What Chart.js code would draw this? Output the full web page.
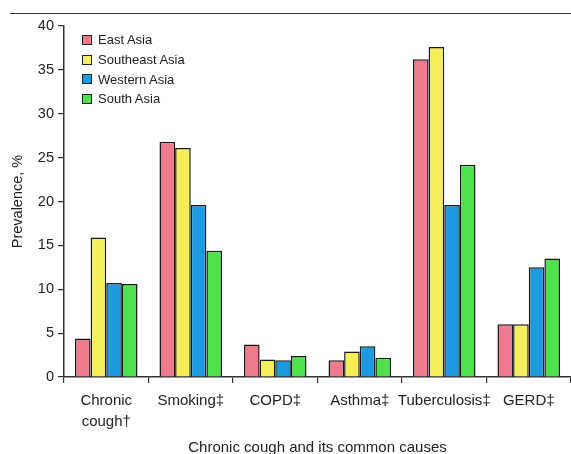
<!DOCTYPE html>
<html>
<head>
<meta charset="utf-8">
<script src="https://cdn.jsdelivr.net/npm/chart.js@4"></script>
<style>
  html, body { margin: 0; padding: 0; background: #fff; }
  #wrap { position: relative; width: 571px; height: 454px; }
  #topline { position: absolute; left: 10px; right: 0; top: 13px; height: 0; border-top: 1.5px solid #333; }
  #legend { position: absolute; left: 82px; top: 30px; font: 13px "Liberation Sans", Arial, sans-serif; color: #222; }
  #legend div { height: 19.7px; display: flex; align-items: center; }
  #legend span.box { display: inline-block; width: 8px; height: 8px; border: 1.5px solid #222; margin-right: 6px; }
</style>
</head>
<body>
<div id="wrap">
  <canvas id="c" width="571" height="454"></canvas>
  <div id="topline"></div>
  <div id="legend"></div>
</div>
<script>
// categories (x axis)
const categories = [['Chronic', 'cough†'], 'Smoking‡', 'COPD‡', 'Asthma‡', 'Tuberculosis‡', 'GERD‡'];
const seriesNames = ['East Asia', 'Southeast Asia', 'Western Asia', 'South Asia'];
const seriesColors = ['#EE7A8E', '#F4EE58', '#1D9BE2', '#4FE24F'];

// prevalence %
const eastAsia      = [4.4, 26.8, 3.7, 1.9, 36.2, 6.0];
const southeastAsia = [15.9, 26.1, 2.0, 2.9, 37.6, 6.0];
const westernAsia   = [10.7, 19.6, 1.9, 3.5, 19.6, 12.5];
const southAsia     = [10.6, 14.4, 2.4, 2.2, 24.2, 13.5];
const yTicks = [0, 5, 10, 15, 20, 25, 30, 35, 40];

const allValues = [eastAsia, southeastAsia, westernAsia, southAsia];
const FONT = '"Liberation Sans", Arial, sans-serif';

// legend in the plot corner
const legendEl = document.getElementById('legend');
seriesNames.forEach((name, i) => {
    const row = document.createElement('div');
    row.innerHTML = `<span class="box" style="background:${seriesColors[i]}"></span>${name}`;
    legendEl.appendChild(row);
});

new Chart(document.getElementById('c'), {
    type: 'bar',
    data: {
        labels: categories,
        datasets: seriesNames.map((name, i) => ({
            label: name,
            data: allValues[i],
            backgroundColor: seriesColors[i],
            borderColor: '#1a1a1a',
            borderWidth: 1.5,
            borderSkipped: 'bottom',
            categoryPercentage: 0.74,
            barPercentage: 1.0
        }))
    },
    options: {
        responsive: false,
        animation: false,
        layout: { padding: { top: 26, right: 0, left: 0, bottom: 0 } },
        plugins: {
            legend: { display: false },
            tooltip: { enabled: false }
        },
        scales: {
            x: {
                grid: { drawOnChartArea: false, offset: true, tickLength: 6, color: '#333', lineWidth: 1.2 },
                border: { color: '#333', width: 1.5 },
                ticks: { color: '#222', font: { family: FONT, size: 15, lineHeight: 1.35 }, padding: 8, maxRotation: 0, autoSkip: false },
                title: { display: true, text: 'Chronic cough and its common causes', color: '#222',
                         font: { family: FONT, size: 15 }, padding: { top: 4, bottom: -3 } },
                afterFit: s => { s.height = 77; }
            },
            y: {
                min: 0, max: 40,
                afterBuildTicks: s => { s.ticks = yTicks.map(v => ({ value: v })); },
                grid: { drawOnChartArea: false, tickLength: 6, color: '#333', lineWidth: 1.2 },
                border: { color: '#333', width: 1.5 },
                ticks: { color: '#222', font: { family: FONT, size: 14.5 }, padding: 4 },
                title: { display: true, text: 'Prevalence, %', color: '#222',
                         font: { family: FONT, size: 14.5 }, padding: { top: 9, bottom: 0 } },
                afterFit: s => { s.width = 64; }
            }
        }
    }
});
</script>
</body>
</html>
